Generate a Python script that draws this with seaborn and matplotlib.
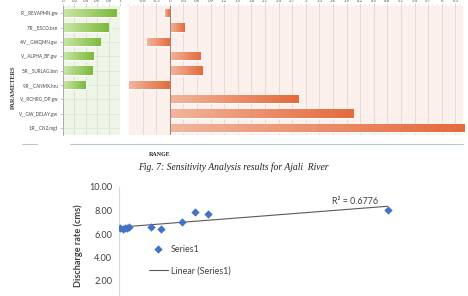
import matplotlib
matplotlib.use("Agg")
import matplotlib.pyplot as plt
import matplotlib.colors as mcolors
from matplotlib.lines import Line2D
import seaborn as sns
import numpy as np
import pandas as pd

# --- sensitivity analysis (top) ---
params = [":R__REVAPMN.gw", "7:R__ESCO.bsn", "4:V__GWQMN.gw", "V__ALPHA_BF.gw",
          "5:R__SURLAG.bsn", "9:R__CANMX.hru", "V__RCHRG_DP.gw", "V__GW_DELAY.gw",
          "1:R__CN2.mgt"]
p_values = [0.93, 0.79, 0.65, 0.54, 0.51, 0.40, 0.0, 0.0, 0.0]
t_stats = [-0.10, 0.31, -0.51, 0.68, 0.71, -0.90, 2.83, 4.04, 6.50]
p_ticks = [0, 0.2, 0.4, 0.6, 0.8, 1]
t_ticks = [-0.6, -0.3, 0, 0.3, 0.6, 0.9, 1.2, 1.5, 1.8, 2.1, 2.4, 2.7, 3, 3.3,
           3.6, 3.9, 4.2, 4.5, 4.8, 5.1, 5.4, 5.7, 6, 6.3]

# --- discharge scatter (bottom) ---
flow_x = [0.4, 1.6, 2.4, 3.2, 4.1, 13.0, 17.0, 25.6, 30.8, 36.1, 109.0]
discharge = [6.53, 6.40, 6.50, 6.55, 6.62, 6.62, 6.45, 7.05, 7.90, 7.68, 8.04]
y_ticks = [2, 4, 6, 8, 10]
r2_text = "R² = 0.6776"

sns.set_style("white")
plt.rcParams['font.family'] = ['Lato', 'DejaVu Sans']

fig = plt.figure(figsize=(4.68, 2.96), dpi=100)
W, H = 468.0, 296.0


def px_axes(x0, y0, x1, y1):
    return fig.add_axes([x0 / W, 1 - y1 / H, (x1 - x0) / W, (y1 - y0) / H])


def shade(ax, c0, c1):
    cmap = mcolors.LinearSegmentedColormap.from_list("g", [c0, c1])
    for p in list(ax.patches):
        w = p.get_width()
        if abs(w) < 1e-9:
            continue
        xl, xr = sorted([p.get_x(), p.get_x() + w])
        y0, h = p.get_y(), p.get_height()
        im = ax.imshow(np.linspace(0, 1, 64).reshape(1, -1), cmap=cmap,
                       extent=[xl, xr, y0 + h, y0], aspect='auto',
                       zorder=p.get_zorder() + 0.1)
        im.set_clip_path(p)


df = pd.DataFrame({"param": params, "p": p_values, "t": t_stats})

# p-value panel
ax1 = px_axes(63, 6, 120, 135)
ax1.set_facecolor("#eef6e8")
sns.barplot(data=df, x="p", y="param", orient="h", color="#8cc152",
            width=0.58, ax=ax1, zorder=2)
shade(ax1, "#c9e6a6", "#7cba3a")
ax1.set_xlim(0, 1)
ax1.set_ylim(len(params) - 0.5, -0.5)
ax1.set_xticks(p_ticks)
ax1.set_xticklabels([f"{v:g}" for v in p_ticks])
ax1.set_xticks(np.arange(0, 1.01, 0.1), minor=True)

# t-stat panel
ax2 = px_axes(129, 6, 463, 135)
ax2.set_facecolor("#fcf0ed")
sns.barplot(data=df, x="t", y="param", orient="h", color="#e8825a",
            width=0.58, ax=ax2, zorder=2)
shade(ax2, "#f1b59b", "#e56a3c")
ax2.set_xlim(-0.9, 6.47)
ax2.set_ylim(len(params) - 0.5, -0.5)
ax2.set_xticks(t_ticks)
ax2.set_xticklabels([f"{v:g}" for v in t_ticks])
ax2.set_xticks(np.arange(-0.9, 6.5, 0.1), minor=True)
ax2.axvline(0, color="#a08878", lw=0.8, zorder=3)
ax2.set_yticks([])

for ax in (ax1, ax2):
    ax.xaxis.tick_top()
    ax.tick_params(axis="x", which="major", labelsize=3.2, pad=0.5, length=2,
                   color="#bbbbbb", labelcolor="#555555", width=0.4)
    ax.tick_params(axis="x", which="minor", length=1.2, color="#cccccc", width=0.3)
    ax.grid(True, axis="both", color="#e2d8d4", lw=0.6, zorder=0)
    ax.set_axisbelow(True)
    ax.set_xlabel("")
    ax.set_ylabel("")
    for s in ax.spines.values():
        s.set_visible(False)

ax1.spines["left"].set_visible(True)
ax1.spines["left"].set_color("#a0a0a0")
ax1.spines["left"].set_linewidth(0.6)
ax1.tick_params(axis="y", labelsize=3.3, length=2.5, pad=1, color="#a0a0a0",
                labelcolor="#444444", width=0.4, left=True)
ax1.grid(True, axis="y", color="#dfe8d8", lw=0.6)

fig.text(13 / W, 1 - 87 / H, "PARAMETERS", rotation=90, ha="center", va="center",
         fontsize=4.6, fontweight="bold", family="Liberation Serif", color="#333333")
fig.add_artist(Line2D([70 / W, 463 / W], [1 - 143.5 / H] * 2, color="#b7c9cf", lw=0.8))
fig.add_artist(Line2D([22 / W, 37 / W], [1 - 143.5 / H] * 2, color="#b7c9cf", lw=0.8))
fig.text(160 / W, 1 - 155 / H, "RANGE", ha="center", va="center", fontsize=4.3,
         fontweight="bold", family="Liberation Serif", color="#222222")
fig.text(233 / W, 1 - 167.5 / H, "Fig. 7: Sensitivity Analysis results for Ajali  River",
         ha="center", va="center", fontsize=6.9, style="italic",
         family="Liberation Serif", color="#222222")

# scatter with linear trendline
ax3 = px_axes(119, 187, 464, 304.5)
sns.scatterplot(x=flow_x, y=discharge, marker="D", s=18, color="#4472c4",
                edgecolor="#4472c4", linewidth=0, ax=ax3, label="Series1", zorder=3)
sns.regplot(x=flow_x, y=discharge, scatter=False, ci=None, truncate=True,
            line_kws={"color": "#595959", "lw": 0.8}, ax=ax3, label="Linear (Series1)")
ax3.set_xlim(0, 140)
ax3.set_ylim(0, 10)
ax3.set_yticks(y_ticks)
ax3.set_yticklabels([f"{v:.2f}" for v in y_ticks])
ax3.set_xticks([])
ax3.tick_params(axis="y", labelsize=6.6, length=0, pad=5, labelcolor="#404040")
for s in ("top", "right", "bottom"):
    ax3.spines[s].set_visible(False)
ax3.spines["left"].set_color("#d9d9d9")
ax3.spines["left"].set_linewidth(0.8)
ax3.set_ylabel("Discharge rate (cms)", fontsize=6.6, fontweight="bold", color="#404040",
               labelpad=4)
ax3.text(355 / W, 1 - 201 / H, r2_text, transform=fig.transFigure, ha="center",
         va="center", fontsize=6.4, color="#404040")
leg = ax3.legend(loc="upper left", bbox_to_anchor=((145 - 119) / 345, (304.5 - 241) / 117.5),
                 frameon=False, fontsize=6.4, handlelength=2.2, handletextpad=0.3,
                 labelspacing=1.45, borderaxespad=0)
for t in leg.get_texts():
    t.set_color("#404040")

fig.savefig("out.png", dpi=100)
